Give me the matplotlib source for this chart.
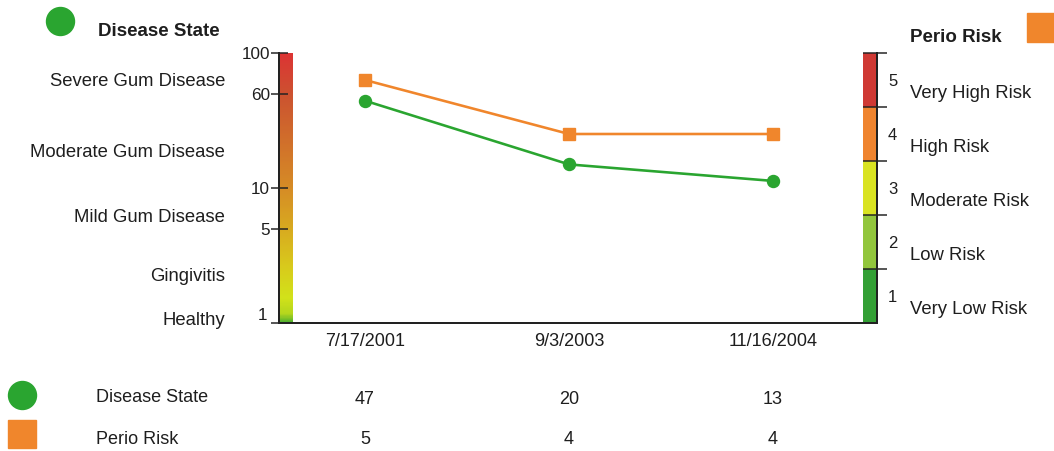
import numpy as np
import matplotlib
matplotlib.use('Agg')
import matplotlib.pyplot as plt
from matplotlib.transforms import Affine2D, blended_transform_factory
from matplotlib.lines import Line2D
from matplotlib.colors import LinearSegmentedColormap

plt.rcParams['font.family'] = ['Liberation Sans', 'DejaVu Sans']

# ---------------- data ----------------
dates = ['7/17/2001', '9/3/2003', '11/16/2004']
disease_state = [47, 20, 13]
perio_risk = [5, 4, 4]
disease_ticks = [1, 5, 10, 50, 100]
disease_tick_labels = ['1', '5', '10', '60', '100']
disease_categories = ['Severe Gum Disease', 'Moderate Gum Disease',
                      'Mild Gum Disease', 'Gingivitis', 'Healthy']
disease_category_pos = [64.5, 25.0, 6.4, 2.95, 1.09]
risk_levels = [1, 2, 3, 4, 5]
risk_categories = ['Very Low Risk', 'Low Risk', 'Moderate Risk',
                   'High Risk', 'Very High Risk']

# ---------------- style ----------------
GREEN = '#2aa530'
ORANGE = '#f0862c'
TXT = '#1e1e1e'
AXC = '#222222'
risk_colors = ['#33a035', '#92c63c', '#d9e322', '#ef842f', '#cf3934']
grad_stops = [(0.00, '#52b02e'), (0.03, '#b4d61e'), (0.09, '#d2e21a'),
              (0.20, '#d8cc1c'), (0.35, '#d8aa20'), (0.50, '#d68c26'),
              (0.84, '#cc5430'), (1.00, '#dc3434')]

W, H = 1054, 451
fig = plt.figure(figsize=(W / 100, H / 100), dpi=100)
px = Affine2D().scale(1 / W, -1 / H).translate(0, 1) + fig.transFigure


def rect(x0, y0, x1, y1):
    return [x0 / W, 1 - y1 / H, (x1 - x0) / W, (y1 - y0) / H]


PT = 0.72  # points per pixel

cb_l = fig.add_axes(rect(279, 53, 293, 323))
cb_r = fig.add_axes(rect(863, 53, 877, 323))
ax = fig.add_axes(rect(279, 53, 877, 323))
ax2 = ax.twinx()
cb_l.set_zorder(0)
cb_r.set_zorder(0)
ax.set_zorder(1)
ax2.set_zorder(2)
ax.patch.set_visible(False)
ax2.patch.set_visible(False)

# left gradient bar
cmap = LinearSegmentedColormap.from_list('ds', grad_stops)
grad = cmap(np.linspace(0, 1, 300))[:, None, :3]
cb_l.imshow(grad, origin='lower', extent=[0, 1, 0, 1], aspect='auto',
            interpolation='bilinear')
cb_l.set_xlim(0, 1)
cb_l.set_ylim(0, 1)
cb_l.axis('off')

# right band bar
for lvl, c in zip(risk_levels, risk_colors):
    cb_r.axhspan(lvl - 0.5, lvl + 0.5, color=c, lw=0)
cb_r.set_xlim(0, 1)
cb_r.set_ylim(0.5, 5.5)
for s in cb_r.spines.values():
    s.set_visible(False)
cb_r.set_xticks([])
cb_r.yaxis.tick_right()
cb_r.set_yticks([l + 0.5 for l in risk_levels])
cb_r.set_yticklabels([])
cb_r.tick_params(axis='y', direction='in', length=14 * PT, width=1.5 * PT,
                 color=AXC)

# left (disease) scale: piecewise between tick values
BP = np.array(disease_ticks, float)
POS = np.log10(BP)


def fwd(v):
    return np.interp(np.asarray(v, float), BP, POS)


def inv(p):
    return np.interp(np.asarray(p, float), POS, BP)


x = np.arange(len(dates))
ax.set_yscale('function', functions=(fwd, inv))
ax.set_ylim(1, 100)
ax.set_xlim(-86 / 204, 2 + 104 / 204)
ax.set_yticks(disease_ticks)
ax.set_yticklabels([''] + disease_tick_labels[1:])
ax.tick_params(axis='y', direction='inout', length=17 * PT, width=1.5 * PT,
               color=AXC, pad=0.5, labelsize=12.3, labelcolor=TXT)
ax.text(-0.02, 1, disease_tick_labels[0],
        transform=blended_transform_factory(ax.transAxes, ax.transData),
        ha='right', va='bottom', fontsize=12.3, color=TXT)
ax.set_xticks(x)
ax.set_xticklabels(dates)
ax.tick_params(axis='x', length=0, pad=7.5, labelsize=13, labelcolor=TXT)
for side in ['top', 'right']:
    ax.spines[side].set_visible(False)
for side in ['left', 'bottom']:
    ax.spines[side].set_color(AXC)
    ax.spines[side].set_linewidth(2 * PT)

ax2.set_ylim(0.5, 5.5)
ax2.set_yticks(risk_levels)
ax2.set_yticklabels([str(l) for l in risk_levels])
ax2.set_yticks([l + 0.5 for l in risk_levels], minor=True)
ax2.tick_params(axis='y', which='major', length=0, pad=8, labelsize=12,
                labelcolor=TXT)
ax2.tick_params(axis='y', which='minor', direction='out', length=10 * PT,
                width=1.5 * PT, color=AXC)
for side in ['top', 'left', 'bottom']:
    ax2.spines[side].set_visible(False)
ax2.spines['right'].set_color(AXC)
ax2.spines['right'].set_linewidth(2 * PT)

# series
ax.plot(x, disease_state, color=GREEN, lw=2.6 * PT, marker='o', ms=12 * PT,
        mec=GREEN, zorder=3, clip_on=False)
ax2.plot(x, perio_risk, color=ORANGE, lw=2.6 * PT, marker='s', ms=12 * PT,
         mec=ORANGE, zorder=3, clip_on=False)

# category labels
tl = blended_transform_factory(px, ax.transData)
for lab, v in zip(disease_categories, disease_category_pos):
    fig.text(225, v, lab, transform=tl, ha='right', va='center',
             fontsize=13.3, color=TXT)
tr = blended_transform_factory(px, ax2.transData)
for lab, v in zip(risk_categories, risk_levels):
    fig.text(910, v - 0.25, lab, transform=tr, ha='left', va='center',
             fontsize=13.3, color=TXT)

# titles with legend glyphs
fig.add_artist(Line2D([59.5], [21], transform=px, marker='o', ls='',
                      ms=28 * PT, color=GREEN))
fig.text(98, 32, 'Disease State', transform=px, ha='left', va='center',
         fontsize=13.5, fontweight='bold', color=TXT)
fig.add_artist(Line2D([1041], [27], transform=px, marker='s', ls='',
                      ms=29 * PT, color=ORANGE))
fig.text(910, 38, 'Perio Risk', transform=px, ha='left', va='center',
         fontsize=13.5, fontweight='bold', color=TXT)

# data table
fig.add_artist(Line2D([22], [395], transform=px, marker='o', ls='',
                      ms=28 * PT, color=GREEN))
fig.add_artist(Line2D([22], [434], transform=px, marker='s', ls='',
                      ms=28 * PT, color=ORANGE))
fig.text(96, 397, 'Disease State', transform=px, ha='left', va='center',
         fontsize=13, color=TXT)
fig.text(96, 439, 'Perio Risk', transform=px, ha='left', va='center',
         fontsize=13, color=TXT)
tt = blended_transform_factory(ax.transData, px)
for xi, d, p in zip(x, disease_state, perio_risk):
    fig.text(xi, 399, str(d), transform=tt, ha='center', va='center',
             fontsize=13, color=TXT)
    fig.text(xi, 440, str(p), transform=tt, ha='center', va='center',
             fontsize=13, color=TXT)

fig.savefig('out.png', dpi=100, facecolor='white')
